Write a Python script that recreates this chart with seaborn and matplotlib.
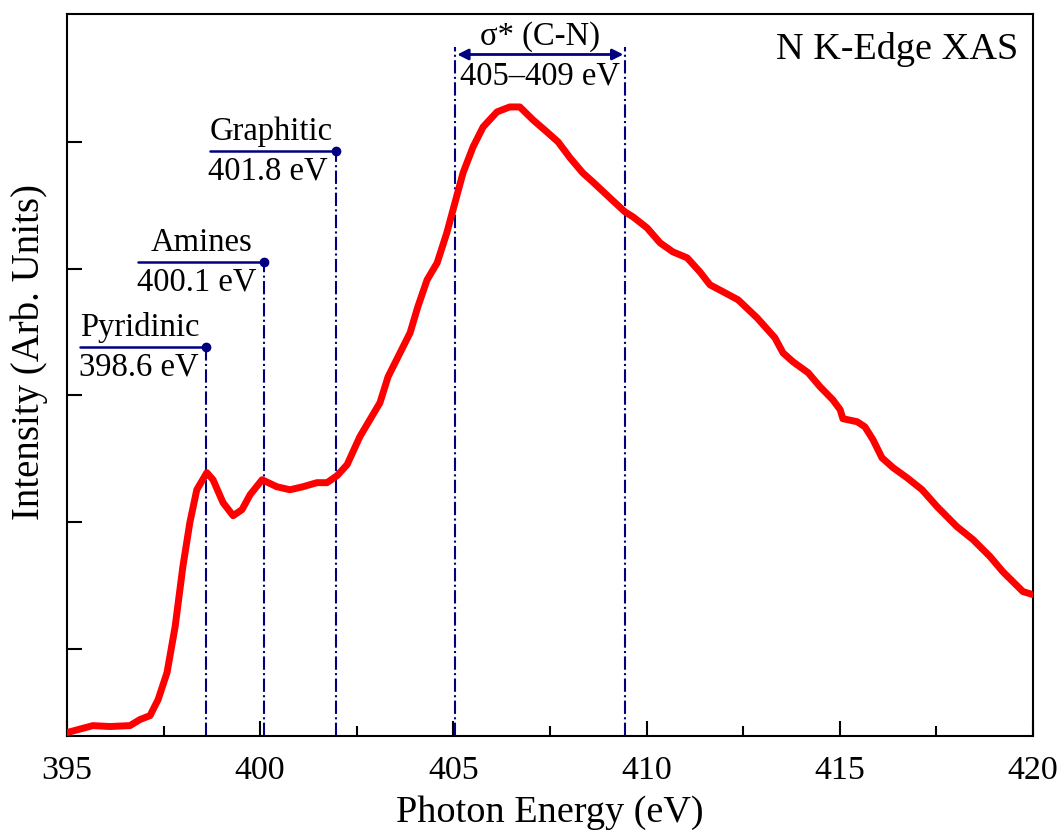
import numpy as np
import matplotlib
matplotlib.use("Agg")
import matplotlib.pyplot as plt
import seaborn as sns

# N K-edge XAS spectrum
energy = [395.00, 395.67, 396.11, 396.63, 396.89, 397.15, 397.36, 397.59, 397.80, 398.00,
          398.18, 398.36, 398.62, 398.78, 399.04, 399.30, 399.53, 399.74, 400.05, 400.43,
          400.77, 401.11, 401.47, 401.73, 401.99, 402.25, 402.58, 403.10, 403.31, 403.62,
          403.88, 404.08, 404.32, 404.58, 404.83, 405.04, 405.25, 405.51, 405.77, 406.13,
          406.46, 406.72, 407.06, 407.42, 407.71, 408.02, 408.35, 408.61, 409.05, 409.44,
          409.65, 410.01, 410.35, 410.68, 411.05, 411.38, 411.64, 411.98, 412.37, 412.86,
          413.32, 413.53, 413.79, 414.18, 414.49, 414.82, 415.01, 415.08, 415.45, 415.65,
          415.86, 416.09, 416.38, 416.74, 417.13, 417.52, 418.03, 418.45, 418.89, 419.22,
          419.74, 420.00]
intensity = [0.337, 0.392, 0.385, 0.392, 0.440, 0.471, 0.598, 0.811, 1.174, 1.647,
             1.994, 2.254, 2.389, 2.333, 2.152, 2.049, 2.097, 2.215, 2.333, 2.278,
             2.254, 2.278, 2.310, 2.310, 2.365, 2.452, 2.673, 2.941, 3.146, 3.335,
             3.493, 3.698, 3.911, 4.045, 4.282, 4.519, 4.755, 4.961, 5.118, 5.237,
             5.276, 5.276, 5.174, 5.079, 5.000, 4.874, 4.755, 4.684, 4.558, 4.448,
             4.408, 4.322, 4.203, 4.132, 4.085, 3.974, 3.872, 3.817, 3.753, 3.611,
             3.454, 3.335, 3.264, 3.178, 3.067, 2.964, 2.886, 2.815, 2.791, 2.751,
             2.649, 2.507, 2.428, 2.349, 2.254, 2.120, 1.963, 1.860, 1.726, 1.607,
             1.450, 1.426]

# peak markers: name, label text, line position, marker height, left end of bar
peak_names = ["Pyridinic", "Amines", "Graphitic"]
peak_labels = ["398.6 eV", "400.1 eV", "401.8 eV"]
peak_pos = [398.6, 400.1, 401.95]
peak_height = [3.38, 4.05, 4.93]
peak_bar_start = [395.35, 396.85, 398.7]

# sigma* band
sigma_range = [405.05, 409.45]
sigma_top = 5.75
sigma_arrow_y = 5.69

navy = "#000080"

sns.set_style("ticks")
plt.rcParams["font.family"] = ["Liberation Serif", "DejaVu Serif"]
plt.rcParams["text.color"] = "black"
plt.rcParams["axes.labelcolor"] = "black"
plt.rcParams["xtick.color"] = "black"
plt.rcParams["ytick.color"] = "black"
plt.rcParams["axes.edgecolor"] = "black"

fig = plt.figure(figsize=(10.61, 8.31), dpi=100)
ax = fig.add_axes([0.0631, 0.1143, 0.9105, 0.8689])

sns.lineplot(x=energy, y=intensity, color="#ff0000", lw=5, ax=ax, zorder=3)

fs = 23.5
# vertical dash-dot guide lines and labelled bars for each peak
for name, lab, xp, yh, x0 in zip(peak_names, peak_labels, peak_pos, peak_height, peak_bar_start):
    ax.plot([xp, xp], [0.31, yh], color=navy, lw=1.5, ls="-.", zorder=2)
    ax.plot([x0, xp], [yh, yh], color=navy, lw=1.8, zorder=4)
    ax.plot([xp], [yh], "o", color=navy, ms=6, zorder=5)
    if name == "Amines":
        ax.text((x0 + xp) / 2, yh + 0.03, name, ha="center", va="bottom", fontsize=fs)
    else:
        ax.text(x0, yh + 0.03, name, ha="left", va="bottom", fontsize=fs)
    ax.text(x0 - 0.05, yh - 0.04, lab, ha="left", va="top", fontsize=fs)

for xs in sigma_range:
    ax.plot([xs, xs], [0.31, sigma_top], color=navy, lw=1.5, ls="-.", zorder=2)

ax.annotate("", xy=(sigma_range[0] + 0.05, sigma_arrow_y), xytext=(sigma_range[1] - 0.05, sigma_arrow_y),
            arrowprops=dict(arrowstyle="<|-|>", color=navy, lw=2, mutation_scale=16,
                            shrinkA=0, shrinkB=0))
ax.text(sum(sigma_range) / 2, sigma_arrow_y + 0.02, "σ* (C-N)", ha="center", va="bottom", fontsize=fs)
ax.text(sum(sigma_range) / 2, sigma_arrow_y - 0.05, "405–409 eV", ha="center", va="top", fontsize=fs)

ax.text(0.985, 0.975, "N K-Edge XAS", transform=ax.transAxes, ha="right", va="top", fontsize=27.5)

ax.set_xlim(395, 420)
ax.set_ylim(0.31, 6.01)
ax.set_xticks([395, 400, 405, 410, 415, 420])
ax.set_xticks([397.5, 402.5, 407.5, 412.5, 417.5], minor=True)
ax.set_yticks([1, 2, 3, 4, 5])
ax.set_yticklabels([])
ax.tick_params(axis="both", which="major", direction="in", length=11, width=1.5, labelsize=24.5)
ax.tick_params(axis="x", which="minor", direction="in", length=7, width=1.5)
ax.tick_params(axis="x", pad=14)
for sp in ax.spines.values():
    sp.set_linewidth(1.5)
    sp.set_visible(True)

ax.set_xlabel("Photon Energy (eV)", fontsize=27.5, labelpad=7)
ax.set_ylabel("Intensity (Arb. Units)", fontsize=28)
ax.yaxis.set_label_coords(-0.02, 0.532)

fig.savefig("out.png", dpi=100)
